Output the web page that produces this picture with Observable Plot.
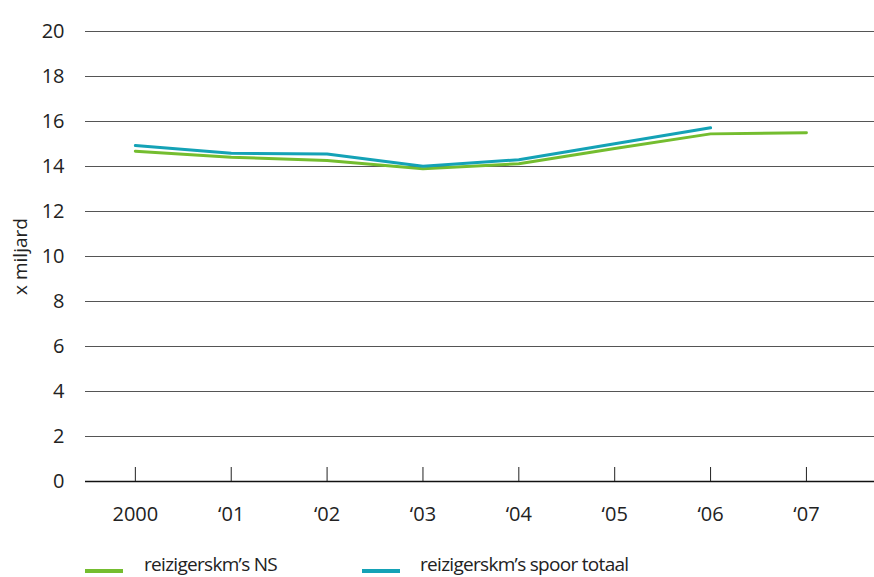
<!DOCTYPE html>
<html>
<head>
<meta charset="utf-8">
<script src="https://cdn.jsdelivr.net/npm/d3@7"></script>
<script src="https://cdn.jsdelivr.net/npm/@observablehq/plot@0.6"></script>
<style>
  body { margin: 0; background: #fff; font-family: "Open Sans", sans-serif; }
  #wrap { width: 874px; height: 577px; position: relative; }
  #legend { position: absolute; left: 0; top: 552px; width: 874px; height: 25px; font-size: 19px; letter-spacing: -0.7px; color: #222; }
  .sw { position: absolute; height: 4px; top: 17px; }
  .lbl { position: absolute; top: 0; line-height: 25px; white-space: nowrap; }
</style>
</head>
<body>
<div id="wrap"><div id="chart"></div><div id="legend"></div></div>
<script>
const years = [2000, 2001, 2002, 2003, 2004, 2005, 2006, 2007];
const yearLabels = ["2000", "‘01", "‘02", "‘03", "‘04", "‘05", "‘06", "‘07"];
const nsValues = [14.68, 14.41, 14.27, 13.9, 14.12, 14.8, 15.45, 15.5];
const totalYears = [2000, 2001, 2002, 2003, 2004, 2005, 2006];
const totalValues = [14.93, 14.59, 14.56, 14.01, 14.3, 15.01, 15.72];
const yTicks = [0, 2, 4, 6, 8, 10, 12, 14, 16, 18, 20];
const seriesNames = ["reizigerskm’s NS", "reizigerskm’s spoor totaal"];
const colors = ["#74bd2f", "#14a2b6"];

const ns = years.map((y, i) => ({year: y, value: nsValues[i]}));
const tot = totalYears.map((y, i) => ({year: y, value: totalValues[i]}));

const chart = Plot.plot({
  width: 874,
  height: 545,
  marginLeft: 85,
  marginRight: 0,
  marginTop: 31,
  marginBottom: 64,
  style: {fontFamily: "'Open Sans', sans-serif", color: "#222", background: "#fff"},
  x: {domain: [1999.48, 2007.71]},
  y: {domain: [0, 20]},
  marks: [
    Plot.ruleY(yTicks.filter(t => t > 0), {stroke: "#555", strokeWidth: 1.2}),
    Plot.ruleY([0], {stroke: "#111", strokeWidth: 1.3}),
    Plot.axisX(years, {tickSize: 14, dy: -14, tickFormat: () => "", stroke: "#222", strokeWidth: 1, label: null}),
    Plot.axisX(years, {tickSize: 0, tickPadding: 25, tickFormat: d => yearLabels[years.indexOf(d)], fontSize: 20, label: null}),
    Plot.axisY(yTicks, {tickSize: 0, tickPadding: 21, fontSize: 20, label: null}),
    Plot.axisY(yTicks, {tickSize: 0, tickFormat: () => "", fontSize: 19, label: "x miljard", labelAnchor: "center", labelArrow: "none", labelOffset: 72}),
    Plot.line(ns, {x: "year", y: "value", stroke: colors[0], strokeWidth: 3}),
    Plot.line(tot, {x: "year", y: "value", stroke: colors[1], strokeWidth: 3})
  ]
});
document.getElementById("chart").appendChild(chart);

const legend = document.getElementById("legend");
const swatchX = [85, 362];
const textX = [144, 420];
seriesNames.forEach((name, i) => {
  const sw = document.createElement("span");
  sw.className = "sw";
  sw.style.left = swatchX[i] + "px";
  sw.style.width = "38px";
  sw.style.background = colors[i];
  legend.appendChild(sw);
  const t = document.createElement("span");
  t.className = "lbl";
  t.style.left = textX[i] + "px";
  t.textContent = name;
  legend.appendChild(t);
});
</script>
</body>
</html>
